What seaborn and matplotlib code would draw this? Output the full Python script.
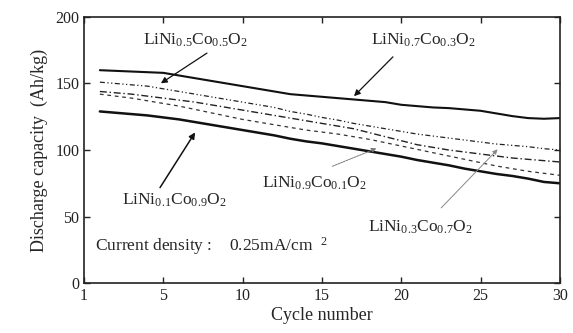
import numpy as np
import pandas as pd
import matplotlib
matplotlib.use("Agg")
import matplotlib.pyplot as plt
import seaborn as sns

cycles = list(range(1, 31))
ni07co03 = [160, 159.5, 159, 158.5, 158, 156, 154, 152, 150, 148, 146, 144, 142, 141, 140,
            139, 138, 137, 136, 134, 133, 132, 131.5, 130.5, 129.5, 127.5, 125.5, 124, 123.5, 124]
ni01co09 = [129, 128, 127, 126, 124.5, 123, 121, 119, 117, 115, 113, 111, 108.5, 106.5, 105,
            103, 101, 99, 97, 95, 92.5, 90.5, 88.5, 86, 84, 82, 80.5, 78.5, 76, 75]
ni05co05 = [151, 150, 149, 148, 146, 144, 142, 140, 138, 136, 134, 132, 129, 127, 124.5,
            122.5, 120, 118, 116, 114, 112, 110.5, 109, 107.5, 106, 104.5, 103.5, 102.5, 101, 100]
ni03co07 = [144, 143, 142, 140.5, 139, 137.5, 136, 134, 132, 130, 128, 126, 124, 122, 120,
            118, 116, 113, 110, 107, 104, 102, 100, 98.5, 97, 95.5, 94, 93, 92, 91]
ni09co01 = [142, 140.5, 139, 137, 135, 133, 130.5, 128, 125.5, 123, 121, 119, 117, 115, 113.5,
            112, 110, 108, 105.5, 103, 100.5, 98, 95.5, 93, 90.5, 88, 86, 84, 82.5, 81]

xtick_pos = [0, 5, 10, 15, 20, 25, 30]
xtick_labels = ["1", "5", "10", "15", "20", "25", "30"]
yticks = [0, 50, 100, 150, 200]

sns.set_style("ticks")
plt.rcParams["font.family"] = ["Liberation Serif", "DejaVu Serif"]
plt.rcParams["mathtext.fontset"] = "custom"
plt.rcParams["mathtext.rm"] = "Liberation Serif"
plt.rcParams["mathtext.it"] = "Liberation Serif"
plt.rcParams["mathtext.bf"] = "Liberation Serif"

fig = plt.figure(figsize=(5.73, 3.33), dpi=100)
ax = fig.add_axes([0.1466, 0.150, 0.8304, 0.799])

series = [
    (ni07co03, "-", 1.5, "#111111"),
    (ni01co09, "-", 1.8, "#111111"),
    (ni05co05, (0, (4, 2, 1, 2, 1, 2)), 0.9, "#222222"),
    (ni03co07, (0, (5, 2, 1, 2)), 1.0, "#222222"),
    (ni09co01, (0, (3, 3)), 0.9, "#333333"),
]
for vals, ls, lw, col in series:
    df = pd.DataFrame({"cycle": cycles, "cap": vals})
    sns.lineplot(data=df, x="cycle", y="cap", ax=ax, color=col, lw=lw, linestyle=ls)

ax.set_xlim(0, 30)
ax.set_ylim(0, 200)
ax.set_xticks(xtick_pos)
ax.set_xticklabels(xtick_labels)
ax.set_yticks(yticks)
ax.tick_params(direction="in", top=True, right=True, length=4, width=1, labelsize=11.5,
               colors="#222222")
for sp in ax.spines.values():
    sp.set_linewidth(1.2)
    sp.set_color("#222222")
ax.set_xlabel("Cycle number", fontsize=13, labelpad=2)
ax.set_ylabel("Discharge capacity  (Ah/kg)", fontsize=13, labelpad=5)

fs = 12.5
ax.text(3.7, 182.5, r"LiNi$_{0.5}$Co$_{0.5}$O$_{2}$", fontsize=fs, va="center", ha="left")
ax.annotate("", xy=(4.7, 149), xytext=(7.9, 174),
            arrowprops=dict(arrowstyle="-|>", color="#111111", lw=0.9, mutation_scale=9))
ax.text(18.1, 182.5, r"LiNi$_{0.7}$Co$_{0.3}$O$_{2}$", fontsize=fs, va="center", ha="left")
ax.annotate("", xy=(16.9, 139), xytext=(19.6, 171.5),
            arrowprops=dict(arrowstyle="-|>", color="#111111", lw=0.9, mutation_scale=9))
ax.text(2.4, 62, r"LiNi$_{0.1}$Co$_{0.9}$O$_{2}$", fontsize=fs, va="center", ha="left")
ax.annotate("", xy=(7.1, 115), xytext=(4.7, 70),
            arrowprops=dict(arrowstyle="-|>", color="#111111", lw=1.1, mutation_scale=9))
ax.text(11.2, 75, r"LiNi$_{0.9}$Co$_{0.1}$O$_{2}$", fontsize=fs, va="center", ha="left")
ax.annotate("", xy=(18.6, 102), xytext=(15.5, 87),
            arrowprops=dict(arrowstyle="-|>", color="#777777", lw=0.7, ls=(0, (2, 1)),
                            mutation_scale=7))
ax.text(17.9, 42, r"LiNi$_{0.3}$Co$_{0.7}$O$_{2}$", fontsize=fs, va="center", ha="left")
ax.annotate("", xy=(26.2, 102), xytext=(22.4, 55),
            arrowprops=dict(arrowstyle="-|>", color="#888888", lw=0.7, mutation_scale=7))
ax.text(0.7, 28, r"Current density :    0.25mA/cm  $^{2}$", fontsize=fs, va="center", ha="left")

fig.savefig("out.png", dpi=100)
